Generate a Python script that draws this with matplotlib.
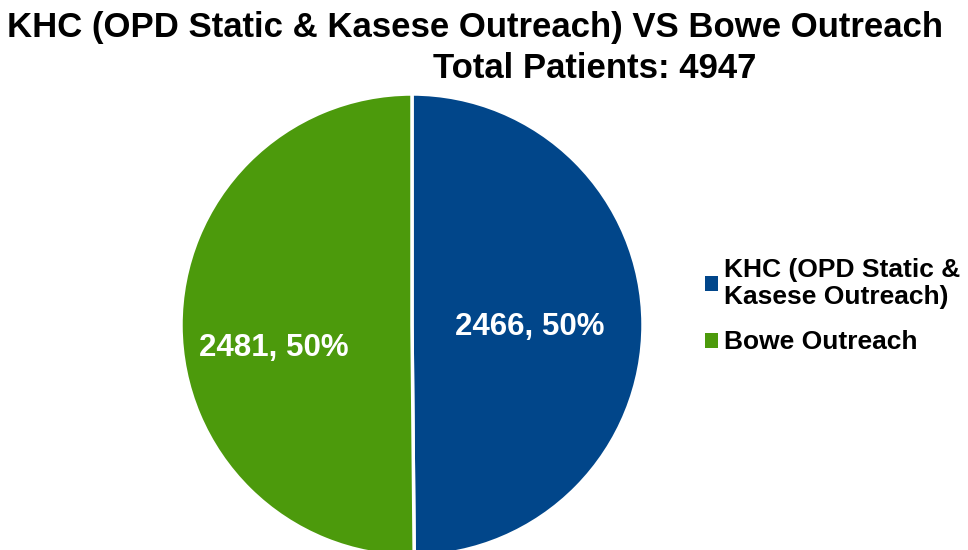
import matplotlib
matplotlib.use("Agg")
from matplotlib import pyplot as plt
from matplotlib.patches import Patch

# data
categories = ["KHC (OPD Static &\nKasese Outreach)", "Bowe Outreach"]
patients = [2466, 2481]
colors = ["#01468a", "#4c9a0c"]
total = sum(patients)

plt.rcParams['font.family'] = ['Liberation Sans', 'DejaVu Sans']

fig = plt.figure(figsize=(9.68, 5.5), dpi=100)

# pie axes: centre ~ (412, 325) px, radius ~231 px
r = 231
ax = fig.add_axes([(412 - r) / 968, (225 - r) / 550, 2 * r / 968, 2 * r / 550])
wedges, _ = ax.pie(patients, colors=colors, startangle=90, counterclock=False,
                   radius=1, wedgeprops=dict(edgecolor="white", linewidth=2.5))
ax.set_xlim(-1, 1)
ax.set_ylim(-1, 1)
ax.axis('off')

# data labels
label_pos = [(0.51, -0.01), (-0.6, -0.1)]
for val, (x, y) in zip(patients, label_pos):
    ax.text(x, y, f"{val}, {val / total:.0%}", color="white", fontsize=22.5,
            fontweight="bold", ha="center", va="center")

# title
fig.text(475 / 968, 1 - 28 / 550, "KHC (OPD Static & Kasese Outreach) VS Bowe Outreach",
         ha="center", va="center", fontsize=25, fontweight="bold")
fig.text(595 / 968, 1 - 68 / 550, f"Total Patients: {total}",
         ha="center", va="center", fontsize=25, fontweight="bold")

# legend
handles = [Patch(facecolor=c, edgecolor="none") for c in colors]
fig.legend(handles, categories, loc="center left", bbox_to_anchor=(692 / 968, 1 - 306 / 550),
           frameon=False, prop=dict(size=19, weight="bold"), handlelength=0.5,
           handleheight=0.5, handletextpad=0.2, labelspacing=0.8, borderpad=0)

fig.savefig("out.png", dpi=100)
